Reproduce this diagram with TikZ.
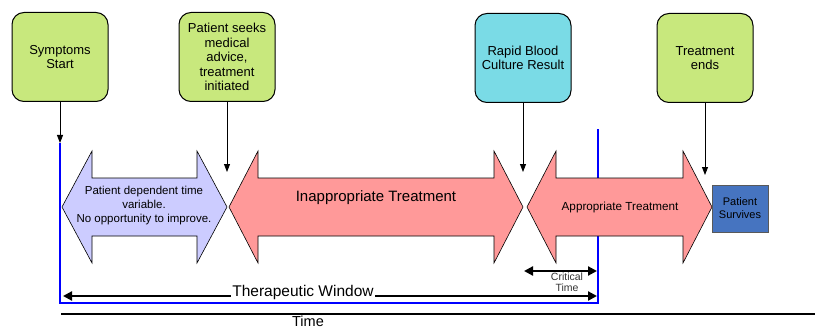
\documentclass[tikz,border=0pt]{standalone}
\usepackage{fontspec}
\setmainfont{Liberation Sans}
\usetikzlibrary{arrows.meta}
\definecolor{eventgreen}{RGB}{200,232,125}
\definecolor{eventcyan}{RGB}{122,219,230}
\definecolor{lavender}{RGB}{204,204,255}
\definecolor{salmon}{RGB}{255,153,153}
\definecolor{survblue}{RGB}{70,116,192}
\begin{document}
\begin{tikzpicture}[x=1pt,y=-1pt,
  event/.style={draw=black, line width=1pt, rounded corners=12pt, minimum width=96pt, minimum height=89pt, align=center, inner sep=1pt, font=\fontsize{13}{14.5}\selectfont},
  pointer/.style={-{Triangle[length=8pt,width=6pt]}, line width=0.9pt},
  phase/.style={draw=black, line width=0.6pt},
  window/.style={blue, line width=2.2pt},
  timing/.style={line width=2.2pt, {Triangle[length=9pt,width=9pt]}-{Triangle[length=9pt,width=9pt]}}]
\useasboundingbox (0,0) rectangle (815,329);
% blue therapeutic window
\draw[window] (60,143) -- (60,303) -- (598,303) -- (598,129);
% time axis
\draw[line width=2.5pt] (61,314) -- (815,314);
\node[anchor=north, inner sep=0pt, font=\fontsize{14.5}{17}\selectfont] (time) at (308,315.5) {Time};
% events
\node[event, fill=eventgreen] (symptoms) at (60,57) {Symptoms\\Start};
\node[event, fill=eventgreen] (seeks) at (227,57) {Patient seeks\\medical\\advice,\\treatment\\initiated};
\node[event, fill=eventcyan] (rapid) at (523,58) {Rapid Blood\\Culture Result};
\node[event, fill=eventgreen] (ends) at (705,58) {Treatment\\ends};
\coordinate (onset) at (60,143);
\coordinate (start) at (227,172);
\coordinate (result) at (523,172);
\coordinate (finish) at (705,175);
\draw[pointer] (symptoms) -- (onset);
\draw[pointer] (seeks) -- (start);
\draw[pointer] (rapid) -- (result);
\draw[pointer] (ends) -- (finish);
% phases
\filldraw[phase, fill=lavender] (62,207) -- (92,151) -- (92,178) -- (197,178) -- (197,151) -- (227,207) -- (197,263) -- (197,236) -- (92,236) -- (92,263) -- cycle;
\node[align=center, font=\fontsize{11.5}{14}\selectfont] (delay) at (144,206) {Patient dependent time\\variable.\\No opportunity to improve.};
\filldraw[phase, fill=salmon] (229,207) -- (258,151) -- (258,178) -- (494,178) -- (494,151) -- (523,207) -- (494,263) -- (494,236) -- (258,236) -- (258,263) -- cycle;
\node[font=\fontsize{15}{17}\selectfont] (inappropriate) at (376,198) {Inappropriate Treatment};
\filldraw[phase, fill=salmon] (527,207) -- (556,151) -- (556,178) -- (683,178) -- (683,151) -- (712,207) -- (683,263) -- (683,236) -- (556,236) -- (556,263) -- cycle;
\node[font=\fontsize{11.7}{14}\selectfont] (appropriate) at (620,207) {Appropriate Treatment};
\node[draw=black!65, fill=survblue, minimum width=56pt, minimum height=47pt, align=center, inner sep=1pt, font=\fontsize{11}{13}\selectfont] (survives) at (740,208.5) {Patient\\Survives};
% spans
\draw[timing] (63,296) -- (597,296);
\node[anchor=base, fill=white, inner sep=1pt, font=\fontsize{15.5}{17}\selectfont] (therapeutic) at (303,296) {Therapeutic Window};
\draw[timing] (524,271) -- (597,271);
\node[align=center, text=black!80, inner sep=0pt, font=\fontsize{10.5}{11.5}\selectfont] (critical) at (567,282) {Critical\\Time};
\end{tikzpicture}
\end{document}
